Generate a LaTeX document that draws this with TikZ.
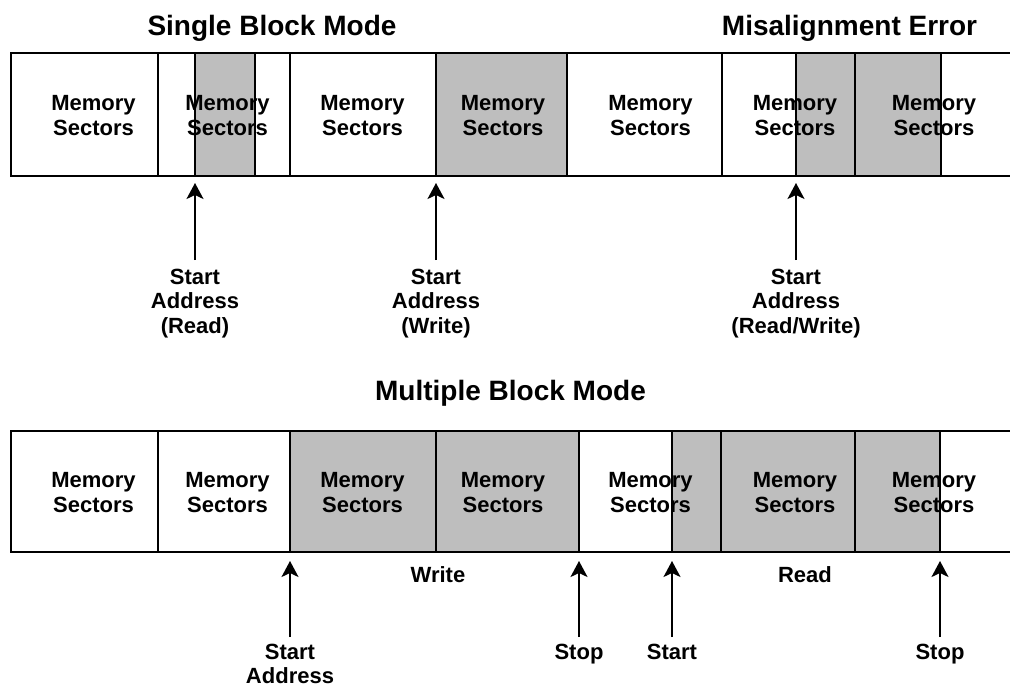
\documentclass[tikz,border=0pt]{standalone}
\usepackage{fontspec}
\setmainfont{Liberation Sans}
\usetikzlibrary{arrows.meta}
\definecolor{shade}{RGB}{190,190,190}
\begin{document}
\begin{tikzpicture}[x=1pt,y=-1pt,
  strip/.style={line width=2pt},
  blk/.style={fill=shade, draw, line width=2pt},
  sec/.style={align=center, font=\bfseries\fontsize{22}{25}\selectfont, inner sep=0pt},
  title/.style={anchor=base, font=\bfseries\fontsize{28}{34}\selectfont, inner sep=0pt},
  lbl/.style={align=center, anchor=north, font=\bfseries\fontsize{22}{24.5}\selectfont, inner sep=0pt},
  toplbl/.style={lbl, outer ysep=9pt},
  botlbl/.style={lbl, outer ysep=7pt},
  arr/.style={line width=2pt, -{Stealth[length=16pt,width=17pt,inset=4pt]}}
]
\path[use as bounding box] (0,0) rectangle (1010,688);

% ---------- titles ----------
\node[title] (t1) at (272,35) {Single Block Mode};
\node[title] (t2) at (849.5,35) {Misalignment Error};
\node[title] (t3) at (510.5,400) {Multiple Block Mode};

% ---------- top strip ----------
\draw[blk] (195,53) rectangle (255,176);
\draw[blk] (436,53) rectangle (567,176);
\draw[blk] (796,53) rectangle (941,176);
\draw[strip] (1012,53) -- (11,53) -- (11,176) -- (1012,176);
\foreach \x in {158,290,722,855} \draw[strip] (\x,53) -- (\x,176);

\node[sec] (a1) at (93.5,115.5) {Memory\\Sectors};
\node[sec] (a2) at (227.5,115.5) {Memory\\Sectors};
\node[sec] (a3) at (362.5,115.5) {Memory\\Sectors};
\node[sec] (a4) at (503,115.5) {Memory\\Sectors};
\node[sec] (a5) at (650.5,115.5) {Memory\\Sectors};
\node[sec] (a6) at (795,115.5) {Memory\\Sectors};
\node[sec] (a7) at (934,115.5) {Memory\\Sectors};

\coordinate (p1) at (195,183);
\coordinate (p2) at (436,183);
\coordinate (p3) at (796,183);
\node[toplbl] (r1) at (195,260) {Start\\Address\\(Read)};
\node[toplbl] (r2) at (436,260) {Start\\Address\\(Write)};
\node[toplbl] (r3) at (796,260) {Start\\Address\\(Read/Write)};
\draw[arr] (r1.north) -- (p1);
\draw[arr] (r2.north) -- (p2);
\draw[arr] (r3.north) -- (p3);

% ---------- bottom strip ----------
\draw[blk] (290,431) rectangle (579,552);
\draw[blk] (672,431) rectangle (940,552);
\draw[strip] (1012,431) -- (11,431) -- (11,552) -- (1012,552);
\foreach \x in {158,436,721,855} \draw[strip] (\x,431) -- (\x,552);

\node[sec] (b1) at (93.5,492.5) {Memory\\Sectors};
\node[sec] (b2) at (227.5,492.5) {Memory\\Sectors};
\node[sec] (b3) at (362.5,492.5) {Memory\\Sectors};
\node[sec] (b4) at (503,492.5) {Memory\\Sectors};
\node[sec] (b5) at (650.5,492.5) {Memory\\Sectors};
\node[sec] (b6) at (795,492.5) {Memory\\Sectors};
\node[sec] (b7) at (934,492.5) {Memory\\Sectors};

\node[sec, anchor=base] (w) at (438,582) {Write};
\node[sec, anchor=base] (rd) at (805,582) {Read};

\coordinate (q1) at (290,561);
\coordinate (q2) at (579,561);
\coordinate (q3) at (672,561);
\coordinate (q4) at (940,561);
\node[botlbl] (s1) at (290,637) {Start\\Address};
\node[botlbl] (s2) at (579,637) {Stop};
\node[botlbl] (s3) at (672,637) {Start};
\node[botlbl] (s4) at (940,637) {Stop};
\draw[arr] (s1.north) -- (q1);
\draw[arr] (s2.north) -- (q2);
\draw[arr] (s3.north) -- (q3);
\draw[arr] (s4.north) -- (q4);
\end{tikzpicture}
\end{document}
